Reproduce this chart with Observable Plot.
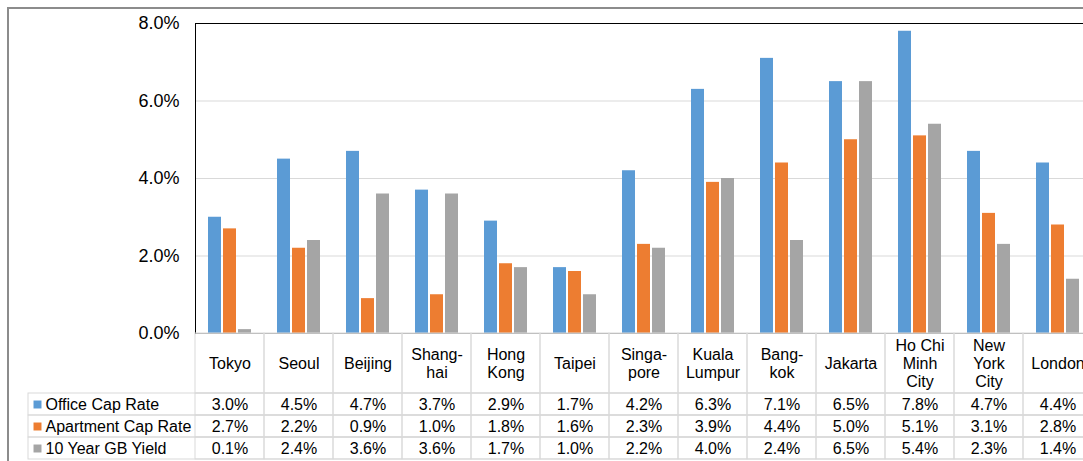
<!DOCTYPE html>
<html>
<head>
<meta charset="utf-8">
<script src="https://cdn.jsdelivr.net/npm/d3@7"></script>
<script src="https://cdn.jsdelivr.net/npm/@observablehq/plot@0.6"></script>
<style>
  html, body { margin: 0; padding: 0; background: #fff; overflow: hidden; }
  body { width: 1083px; height: 461px; position: relative;
         font-family: "Liberation Sans", Arial, Helvetica, sans-serif; }
  #border { position: absolute; left: 7px; top: 7px; width: 1200px; height: 600px;
            border: 2px solid #8c8c8c; box-sizing: border-box; }
  .layer { position: absolute; left: 0; }
  .layer svg { display: block; max-width: none; overflow: visible; }
</style>
</head>
<body>
<div id="border"></div>
<div id="chart" class="layer" style="top:0"></div>
<div id="header" class="layer" style="top:333px"></div>
<div id="rows" class="layer" style="top:393px"></div>
<script>
// Cities (data-table columns) and their wrapped header labels
const cities = ["Tokyo", "Seoul", "Beijing", "Shanghai", "Hong Kong", "Taipei", "Singapore",
  "Kuala Lumpur", "Bangkok", "Jakarta", "Ho Chi Minh City", "New York City", "London"];
const cityLabels = ["Tokyo", "Seoul", "Beijing", "Shang-\nhai", "Hong\nKong", "Taipei", "Singa-\npore",
  "Kuala\nLumpur", "Bang-\nkok", "Jakarta", "Ho Chi\nMinh\nCity", "New\nYork\nCity", "London"];

// Series names and values (percent)
const seriesNames = ["Office Cap Rate", "Apartment Cap Rate", "10 Year GB Yield"];
const officeCapRate    = [3.0, 4.5, 4.7, 3.7, 2.9, 1.7, 4.2, 6.3, 7.1, 6.5, 7.8, 4.7, 4.4];
const apartmentCapRate = [2.7, 2.2, 0.9, 1.0, 1.8, 1.6, 2.3, 3.9, 4.4, 5.0, 5.1, 3.1, 2.8];
const govBondYield10y  = [0.1, 2.4, 3.6, 3.6, 1.7, 1.0, 2.2, 4.0, 2.4, 6.5, 5.4, 2.3, 1.4];
const seriesColors = ["#5B9BD5", "#ED7D31", "#A5A5A5"];

// Y axis ticks (percent)
const yTicks = [0, 2, 4, 6, 8];

const seriesValues = [officeCapRate, apartmentCapRate, govBondYield10y];
const records = cities.flatMap((city, i) =>
  seriesNames.map((series, s) => ({city, series, value: seriesValues[s][i]})));

const fmt = v => v.toFixed(1) + "%";
const font = '"Liberation Sans", Arial, Helvetica, sans-serif';
const baseStyle = {fontFamily: font, background: "transparent", maxWidth: "none", color: "#000", overflow: "visible"};
const gridColor = "#d9d9d9";

// Clustered bars: one facet per city, one band per series
const chart = Plot.plot({
  width: 1092,
  height: 334,
  marginLeft: 195,
  marginRight: 0,
  marginTop: 23,
  marginBottom: 1,
  style: baseStyle,
  fx: {domain: cities, padding: 0, axis: null},
  x: {domain: seriesNames, paddingInner: 0.16, paddingOuter: 0.8, axis: null},
  y: {domain: [0, 8], axis: null},
  color: {domain: seriesNames, range: seriesColors},
  marks: [
    Plot.ruleY(yTicks.filter(t => t > 0 && t < 8), {stroke: gridColor}),
    Plot.barY(records, {fx: "city", x: "series", y: "value", fill: "series"}),
    Plot.ruleY([0], {stroke: "#a6a6a6"}),
    Plot.ruleY([8], {stroke: "#000"}),
    Plot.frame({anchor: "left", facetAnchor: "left", stroke: "#000"}),
    Plot.axisY({ticks: yTicks, tickSize: 0, tickPadding: 16, fontSize: 18,
      tickFormat: fmt, label: null, facetAnchor: "left"})
  ]
});
document.getElementById("chart").append(chart);

// Table header: city names
const header = Plot.plot({
  width: 1092,
  height: 60,
  marginLeft: 195,
  marginRight: 0,
  marginTop: 0,
  marginBottom: 0,
  style: baseStyle,
  x: {domain: cities, padding: 0, axis: null},
  marks: [
    Plot.cell(cities, {x: d => d, fill: "none", stroke: gridColor}),
    Plot.text(cities, {x: d => d, text: (d, i) => cityLabels[i], fontSize: 16,
      lineHeight: 1.125, frameAnchor: "middle", fill: "#000"})
  ]
});
document.getElementById("header").append(header);

// Table rows: one per series, with legend keys on the left
const rows = Plot.plot({
  width: 1092,
  height: 67,
  marginLeft: 195,
  marginRight: 0,
  marginTop: 0,
  marginBottom: 1,
  style: baseStyle,
  x: {domain: cities, padding: 0, axis: null},
  y: {domain: seriesNames, padding: 0, axis: null},
  color: {domain: seriesNames, range: seriesColors},
  marks: [
    Plot.cell(seriesNames, {y: d => d, fill: "none", stroke: gridColor, insetLeft: -167}),
    Plot.cell(records, {x: "city", y: "series", fill: "none", stroke: gridColor}),
    Plot.text(records, {x: "city", y: "series", text: d => fmt(d.value), fontSize: 16, fill: "#000"}),
    Plot.dot(seriesNames, {y: d => d, frameAnchor: "left", dx: -158, symbol: "square",
      r: 4.5, fill: d => d, stroke: null}),
    Plot.text(seriesNames, {y: d => d, text: d => d, frameAnchor: "left", textAnchor: "start",
      dx: -150, fontSize: 16, fill: "#000"})
  ]
});
document.getElementById("rows").append(rows);
</script>
</body>
</html>
